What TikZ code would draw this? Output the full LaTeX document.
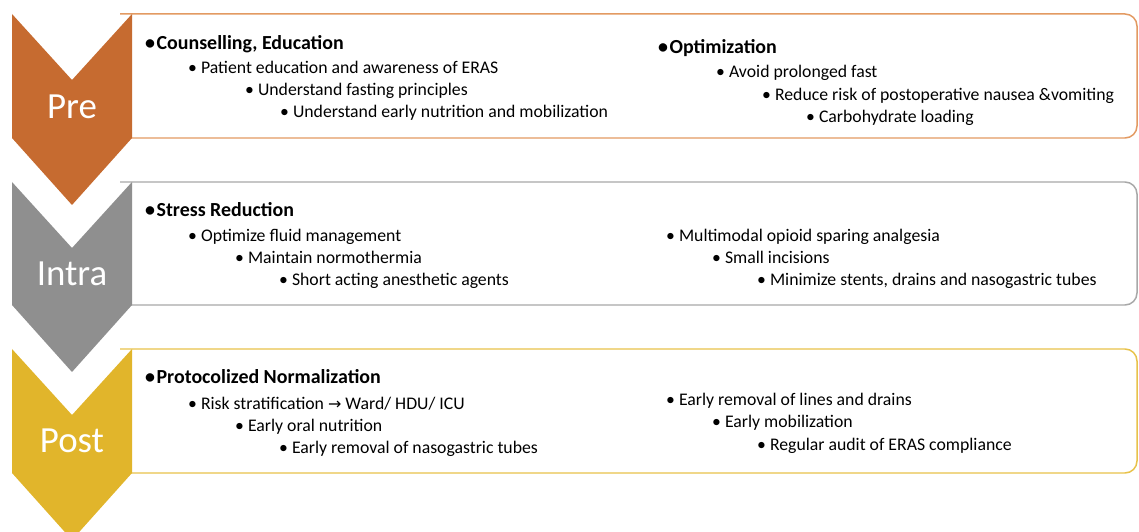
\documentclass[tikz,border=0pt]{standalone}
\usepackage{fontspec}
\setmainfont{Carlito}
\newfontfamily\arrowfont{DejaVu Sans}
\usetikzlibrary{positioning}
\definecolor{preclr}{HTML}{C66B30}
\definecolor{prelin}{HTML}{E39A62}
\definecolor{intraclr}{HTML}{8F8F8F}
\definecolor{intralin}{HTML}{A8A8A8}
\definecolor{postclr}{HTML}{E1B52B}
\definecolor{postlin}{HTML}{E8C24A}
\tikzstyle{phase} = [text=white, inner sep=0pt, font=\fontsize{37}{40}\selectfont]
\tikzstyle{head} = [anchor=base west, inner sep=0pt, font=\bfseries\fontsize{20}{23}\selectfont]
\tikzstyle{item} = [anchor=base west, inner sep=0pt, font=\fontsize{17.8}{21}\selectfont]
\tikzstyle{band} = [line width=1.5pt, fill=white, rounded corners=12bp]

\begin{document}
\begin{tikzpicture}[x=1bp, y=-1bp]
    \useasboundingbox (0,0) rectangle (1139,532);
    \clip (0,0) rectangle (1139,532);

    % boxes
    \draw[band, draw=prelin] (120,14) -- (1137,14) -- (1137,138) -- (120,138);
    \draw[band, draw=intralin] (120,182) -- (1137,182) -- (1137,305) -- (120,305);
    \draw[band, draw=postlin] (120,349) -- (1137,349) -- (1137,473) -- (120,473);

    % chevrons
    \fill[preclr] (12,14) -- (72,80) -- (132,14) -- (132,138) -- (72,205) -- (12,138) -- cycle;
    \fill[intraclr] (12,182) -- (72,248) -- (132,182) -- (132,305) -- (72,372) -- (12,305) -- cycle;
    \fill[postclr] (12,349) -- (72,415) -- (132,349) -- (132,473) -- (72,540) -- (12,473) -- cycle;

    \node (pre) [phase] at (72,107) {Pre};
    \node (intra) [phase] at (72,274) {Intra};
    \node (post) [phase] at (72,441) {Post};

    % pre
    \node (preh1) [head] at (145,50) {•\kern1.5pt Counselling, Education};
    \node (prea1) [item] at (188,74) {• Patient education and awareness of ERAS};
    \node (prea2) [item] at (245,96) {• Understand fasting principles};
    \node (prea3) [item] at (280,118) {• Understand early nutrition and mobilization};
    \node (preh2) [head] at (658,54) {•\kern1.5pt Optimization};
    \node (preb1) [item] at (716,78) {• Avoid prolonged fast};
    \node (preb2) [item] at (762,101) {• Reduce risk of postoperative nausea \&vomiting};
    \node (preb3) [item] at (806,123) {• Carbohydrate loading};

    % intra
    \node (intrah1) [head] at (145,217) {•\kern1.5pt Stress Reduction};
    \node (intraa1) [item] at (188,242) {• Optimize fluid management};
    \node (intraa2) [item] at (235,264) {• Maintain normothermia};
    \node (intraa3) [item] at (279,286) {• Short acting anesthetic agents};
    \node (intrab1) [item] at (666,242) {• Multimodal opioid sparing analgesia};
    \node (intrab2) [item] at (712,264) {• Small incisions};
    \node (intrab3) [item] at (757,286) {• Minimize stents, drains and nasogastric tubes};

    % post
    \node (posth1) [head] at (145,384) {•\kern1.5pt Protocolized Normalization};
    \node (posta1) [item] at (188,409) {• Risk stratification {\arrowfont\fontsize{16}{19}\selectfont →} Ward/ HDU/ ICU};
    \node (posta2) [item] at (235,431) {• Early oral nutrition};
    \node (posta3) [item] at (279,453) {• Early removal of nasogastric tubes};
    \node (postb1) [item] at (666,405) {• Early removal of lines and drains};
    \node (postb2) [item] at (712,427) {• Early mobilization};
    \node (postb3) [item] at (757,450) {• Regular audit of ERAS compliance};

\end{tikzpicture}
\end{document}
